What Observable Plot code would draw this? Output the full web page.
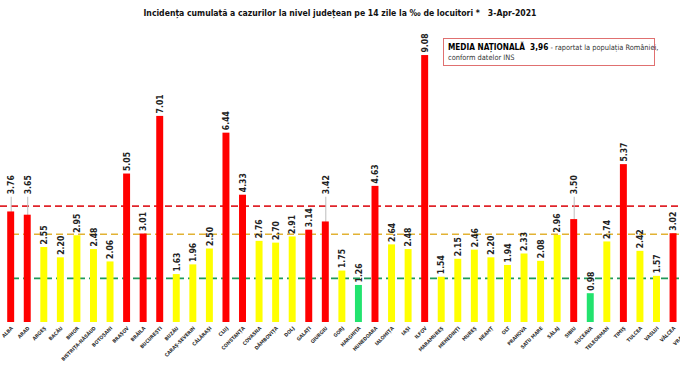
<!DOCTYPE html>
<html>
<head>
<meta charset="utf-8">
<script src="https://cdn.jsdelivr.net/npm/d3@7"></script>
<script src="https://cdn.jsdelivr.net/npm/@observablehq/plot@0.6"></script>
<style>
  html, body { margin: 0; padding: 0; background: #fff; overflow: hidden; }
  #wrap { position: relative; width: 680px; height: 365px; overflow: hidden; }
  #title { position: absolute; left: 0; top: 8px; width: 680px; text-align: center;
    font-family: "Liberation Sans Narrow", "DejaVu Sans Condensed", sans-serif; font-weight: bold; font-size: 8.6px; color: #111; white-space: pre; }
  #box { position: absolute; left: 443px; top: 38px; width: 212px; height: 28px; border: 1px solid #e07070;
    font-family: "Liberation Sans Narrow", "DejaVu Sans Condensed", sans-serif; font-size: 7.4px; color: #333; line-height: 10px; padding: 3px 0 0 4px; box-sizing: border-box; white-space: nowrap; }
  #box b { font-size: 8.2px; color: #000; }
  #chart svg { display: block; }
</style>
</head>
<body>
<div id="wrap">
  <div id="chart"></div>
  <div id="title">Incidența cumulată a cazurilor la nivel județean pe 14 zile la ‰ de locuitori *   3-Apr-2021</div>
  <div id="box"><b>MEDIA NAȚIONALĂ &nbsp;3,96</b> - raportat la populația României,<br>conform datelor INS</div>
</div>
<script>
const counties = ["ALBA","ARAD","ARGEȘ","BACĂU","BIHOR","BISTRIȚA-NĂSĂUD","BOTOȘANI","BRAȘOV","BRĂILA","BUCUREȘTI",
  "BUZĂU","CARAȘ-SEVERIN","CĂLĂRAȘI","CLUJ","CONSTANȚA","COVASNA","DÂMBOVIȚA","DOLJ","GALAȚI","GIURGIU",
  "GORJ","HARGHITA","HUNEDOARA","IALOMIȚA","IAȘI","ILFOV","MARAMUREȘ","MEHEDINȚI","MUREȘ","NEAMȚ",
  "OLT","PRAHOVA","SATU MARE","SĂLAJ","SIBIU","SUCEAVA","TELEORMAN","TIMIȘ","TULCEA","VASLUI","VÂLCEA","VRANCEA"];
const values = [3.76,3.65,2.55,2.20,2.95,2.48,2.06,5.05,3.01,7.01,
  1.63,1.96,2.50,6.44,4.33,2.76,2.70,2.91,3.14,3.42,
  1.75,1.26,4.63,2.64,2.48,9.08,1.54,2.15,2.46,2.20,
  1.94,2.33,2.08,2.96,3.50,0.98,2.74,5.37,2.42,1.57,3.02,2.40];
const nationalAverage = 3.96;
const thresholds = [3, 1.5];

const data = counties.map((c, i) => ({county: c, value: values[i]}));
const barColor = v => v > 3 ? "#ff0000" : v >= 1.5 ? "#ffff00" : "#22e36e";
// the last county (VRANCEA) lies past the right edge of the picture; its value label is not shown
const visible = data.slice(0, data.length - 1);

// labels that would cross the national-average line are lifted above it, with a leader line
const labelSpan = 0.65;   // approx. label length in value units
const liftedBase = nationalAverage + 0.3;
const crosses = d => d.value < nationalAverage + 0.05 && d.value + labelSpan > nationalAverage;
const labelY = d => crosses(d) ? liftedBase : d.value;
const lifted = visible.filter(crosses);

const chart = Plot.plot({
  width: 680,
  height: 365,
  margin: 0,
  x: {domain: counties, range: [-2.4, 702.7], paddingInner: 0.58, paddingOuter: 0.58, round: false, axis: null},
  y: {domain: [0, 10], range: [322, 28], axis: null},
  marks: [
    Plot.ruleY([nationalAverage], {stroke: "#e0242a", strokeWidth: 1.6, strokeDasharray: "7,4"}),
    Plot.ruleY([thresholds[0]], {stroke: "#e2b233", strokeWidth: 1.6, strokeDasharray: "7,4", insetLeft: 12}),
    Plot.ruleY([thresholds[1]], {stroke: "#1f9a5a", strokeWidth: 1.6, strokeDasharray: "7,4", insetLeft: 12}),
    Plot.ruleX(lifted, {x: "county", y1: "value", y2: () => liftedBase, stroke: "#bdbdbd", strokeWidth: 1, insetTop: 2}),
    Plot.barY(data, {x: "county", y: "value", fill: d => barColor(d.value)}),
    Plot.text(visible, {x: "county", y: labelY, text: d => d.value.toFixed(2), rotate: -90, textAnchor: "start",
      dy: -3, fontSize: 8.6, fontWeight: "bold", fill: "#222", fontFamily: "'Liberation Sans Narrow', 'DejaVu Sans Condensed', sans-serif"}),
    Plot.text(data, {x: "county", y: () => 0, text: "county", rotate: -45, textAnchor: "end", dy: 5, dx: 1,
      fontSize: 5, fontWeight: "bold", fill: "#333", fontFamily: "'DejaVu Sans Condensed', sans-serif"})
  ]
});
document.getElementById("chart").appendChild(chart);
</script>
</body>
</html>
